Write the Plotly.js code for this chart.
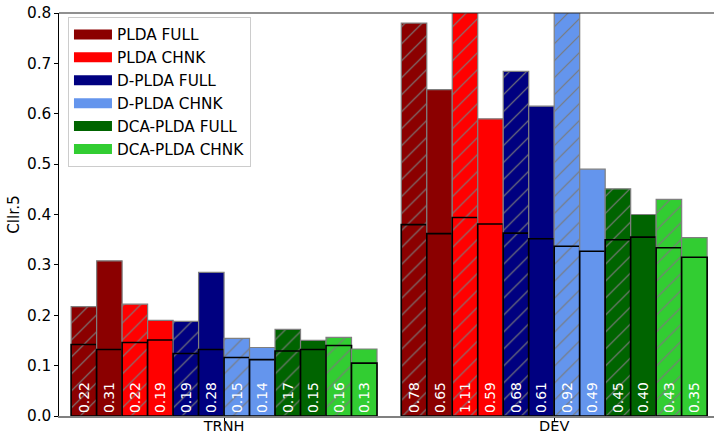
<!DOCTYPE html>
<html>
<head>
<meta charset="utf-8">
<script src="https://cdn.plot.ly/plotly-3.0.1.min.js"></script>
<style>html,body{margin:0;padding:0;background:#fff;}#chart{width:714px;height:434px;}</style>
</head>
<body>
<div id="chart"></div>
<script>
// ---- data ----
var groups = ['TRNH', 'DEV'];
var systems = ['PLDA FULL', 'PLDA CHNK', 'D-PLDA FULL', 'D-PLDA CHNK', 'DCA-PLDA FULL', 'DCA-PLDA CHNK'];
var colors = ['#8B0000', '#FF0000', '#000080', '#6495ED', '#006400', '#32CD32'];
// 12 bars per group: for each system, hatched variant then plain variant
var outerTRNH = [0.217, 0.308, 0.222, 0.190, 0.188, 0.285, 0.154, 0.136, 0.172, 0.150, 0.156, 0.133];
var innerTRNH = [0.142, 0.132, 0.146, 0.151, 0.124, 0.132, 0.116, 0.112, 0.129, 0.132, 0.140, 0.105];
var outerDEV  = [0.780, 0.648, 1.11, 0.590, 0.684, 0.615, 0.92, 0.490, 0.451, 0.400, 0.430, 0.354];
var innerDEV  = [0.380, 0.362, 0.394, 0.381, 0.363, 0.352, 0.337, 0.327, 0.350, 0.355, 0.334, 0.315];
var labelsTRNH = ['0.22', '0.31', '0.22', '0.19', '0.19', '0.28', '0.15', '0.14', '0.17', '0.15', '0.16', '0.13'];
var labelsDEV  = ['0.78', '0.65', '1.11', '0.59', '0.68', '0.61', '0.92', '0.49', '0.45', '0.40', '0.43', '0.35'];
var hatched = [true, false, true, false, true, false, true, false, true, false, true, false];

// ---- build traces ----
var FONT = 'DejaVu Sans, Liberation Sans, sans-serif';
var FS = 15.3;
var n = outerTRNH.length;
var w = 0.0772;
var start = -n * w / 2;
var traces = [];
for (var i = 0; i < n; i++) {
  var c = colors[Math.floor(i / 2)];
  var pat = hatched[i] ? {shape: '/', fgcolor: '#7a7a7a', bgcolor: c, size: 12, solidity: 0.1, fillmode: 'replace'} : {shape: ''};
  traces.push({
    type: 'bar', x: groups, y: [outerTRNH[i], outerDEV[i]],
    offset: start + i * w, width: w, showlegend: false, hoverinfo: 'skip',
    marker: {color: c, line: {color: '#7f7f7f', width: 1.2}, pattern: pat}
  });
  traces.push({
    type: 'bar', x: groups, y: [innerTRNH[i], innerDEV[i]],
    offset: start + i * w, width: w, showlegend: false, hoverinfo: 'skip',
    text: [labelsTRNH[i], labelsDEV[i]], textposition: 'inside', insidetextanchor: 'start',
    textangle: -90, constraintext: 'none',
    textfont: {color: '#ffffff', size: 13.9, family: FONT},
    marker: {color: c, line: {color: '#000000', width: 1.6}, pattern: pat}
  });
}
// legend entries
for (var s = 0; s < systems.length; s++) {
  traces.push({
    type: 'scatter', mode: 'lines', x: [null], y: [null], name: systems[s],
    line: {color: colors[s], width: 10}, hoverinfo: 'skip'
  });
}

var layout = {
  width: 714, height: 434,
  margin: {l: 59, r: 0, t: 13, b: 18, pad: 0},
  paper_bgcolor: '#ffffff', plot_bgcolor: '#ffffff',
  barmode: 'overlay',
  font: {family: FONT, size: FS, color: '#000000'},
  xaxis: {
    type: 'category', range: [-0.5, 1.484], showgrid: false, zeroline: false,
    showline: true, linecolor: '#808080', linewidth: 1.5,
    ticks: 'outside', ticklen: 3, tickcolor: '#000000', tickwidth: 1,
    ticklabelstandoff: -7,
    tickfont: {size: 14.5, family: FONT, color: '#000000'}
  },
  yaxis: {
    range: [0, 0.8], dtick: 0.1, tickformat: '.1f', showgrid: false, zeroline: false,
    showline: true, linecolor: '#000000', linewidth: 1.2,
    ticks: 'outside', ticklen: 3.5, tickcolor: '#000000', tickwidth: 1,
    tickfont: {size: FS, family: FONT, color: '#000000'},
    title: {text: 'Cllr.5', font: {size: FS, family: FONT, color: '#000000'}, standoff: 3}
  },
  shapes: [
    {type: 'line', xref: 'paper', yref: 'paper', x0: 0, x1: 1, y0: 1, y1: 1, line: {color: '#222222', width: 1.2}}
  ],
  legend: {
    x: 0.0137, y: 0.99, xanchor: 'left', yanchor: 'top',
    bgcolor: 'rgba(255,255,255,0.85)', bordercolor: '#cccccc', borderwidth: 1,
    font: {size: FS, family: FONT, color: '#000000'},
    itemwidth: 38,
    tracegroupgap: 0
  }
};

Plotly.newPlot('chart', traces, layout, {displayModeBar: false, staticPlot: true});
</script>
</body>
</html>
